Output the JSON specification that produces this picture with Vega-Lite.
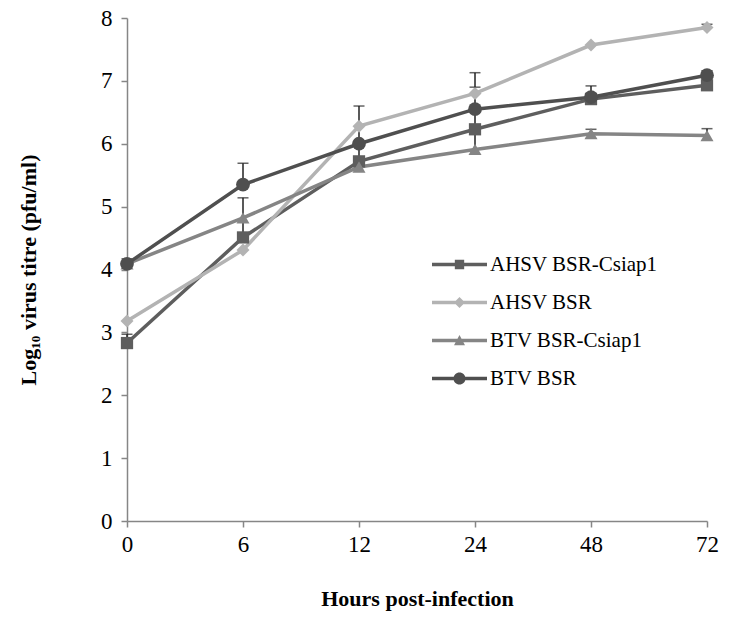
{
  "$schema": "https://vega.github.io/schema/vega-lite/v6.json",
  "width": 580,
  "height": 503,
  "autosize": {"type": "none"},
  "padding": {"left": 127, "top": 18, "right": 32, "bottom": 105},
  "background": "white",
  "config": {
    "view": {"stroke": null},
    "font": "Liberation Serif"
  },
  "datasets": {
    "means": [
      {"hour": "0", "series": "AHSV BSR-Csiap1", "value": 2.83},
      {"hour": "6", "series": "AHSV BSR-Csiap1", "value": 4.51},
      {"hour": "12", "series": "AHSV BSR-Csiap1", "value": 5.72},
      {"hour": "24", "series": "AHSV BSR-Csiap1", "value": 6.23},
      {"hour": "48", "series": "AHSV BSR-Csiap1", "value": 6.71},
      {"hour": "72", "series": "AHSV BSR-Csiap1", "value": 6.93},
      {"hour": "0", "series": "AHSV BSR", "value": 3.18},
      {"hour": "6", "series": "AHSV BSR", "value": 4.31},
      {"hour": "12", "series": "AHSV BSR", "value": 6.28},
      {"hour": "24", "series": "AHSV BSR", "value": 6.80},
      {"hour": "48", "series": "AHSV BSR", "value": 7.57},
      {"hour": "72", "series": "AHSV BSR", "value": 7.85},
      {"hour": "0", "series": "BTV BSR-Csiap1", "value": 4.09},
      {"hour": "6", "series": "BTV BSR-Csiap1", "value": 4.82},
      {"hour": "12", "series": "BTV BSR-Csiap1", "value": 5.63},
      {"hour": "24", "series": "BTV BSR-Csiap1", "value": 5.91},
      {"hour": "48", "series": "BTV BSR-Csiap1", "value": 6.16},
      {"hour": "72", "series": "BTV BSR-Csiap1", "value": 6.13},
      {"hour": "0", "series": "BTV BSR", "value": 4.09},
      {"hour": "6", "series": "BTV BSR", "value": 5.35},
      {"hour": "12", "series": "BTV BSR", "value": 6.00},
      {"hour": "24", "series": "BTV BSR", "value": 6.55},
      {"hour": "48", "series": "BTV BSR", "value": 6.74},
      {"hour": "72", "series": "BTV BSR", "value": 7.09}
    ],
    "errors": [
      {"hour": "0", "series": "AHSV BSR-Csiap1", "lo": 2.83, "hi": 2.97},
      {"hour": "0", "series": "BTV BSR", "lo": 4.09, "hi": 4.17},
      {"hour": "6", "series": "BTV BSR", "lo": 5.35, "hi": 5.69},
      {"hour": "6", "series": "AHSV BSR-Csiap1", "lo": 4.51, "hi": 5.14},
      {"hour": "12", "series": "AHSV BSR-Csiap1", "lo": 5.72, "hi": 6.60},
      {"hour": "24", "series": "BTV BSR-Csiap1", "lo": 5.91, "hi": 7.13},
      {"hour": "24", "series": "AHSV BSR", "lo": 6.80, "hi": 6.90},
      {"hour": "48", "series": "BTV BSR", "lo": 6.74, "hi": 6.92},
      {"hour": "48", "series": "BTV BSR-Csiap1", "lo": 6.16, "hi": 6.23},
      {"hour": "72", "series": "AHSV BSR", "lo": 7.85, "hi": 7.90},
      {"hour": "72", "series": "BTV BSR", "lo": 7.09, "hi": 7.16},
      {"hour": "72", "series": "BTV BSR-Csiap1", "lo": 6.13, "hi": 6.24}
    ]
  },
  "encoding": {
    "x": {"field": "hour", "type": "ordinal", "sort": ["0", "6", "12", "24", "48", "72"], "scale": {"type": "point", "padding": 0},
      "axis": {"title": "Hours post-infection", "labelAngle": 0, "tickSize": 6, "labelPadding": 6, "titlePadding": 32, "grid": false,
        "domainColor": "#868686", "tickColor": "#868686", "domainWidth": 1.5, "tickWidth": 1.5,
        "labelFont": "Liberation Serif", "labelFontSize": 23, "labelColor": "#000000",
        "titleFont": "Liberation Serif", "titleFontSize": 22, "titleFontWeight": "bold", "titleColor": "#000000"}}
  },
  "layer": [
    {
      "data": {"name": "errors"},
      "mark": {"type": "rule", "color": "#222222", "strokeWidth": 1.5},
      "encoding": {
        "y": {"field": "lo", "type": "quantitative", "scale": {"domain": [0, 8]},
          "axis": {"title": "Log₁₀ virus titre (pfu/ml)", "values": [0, 1, 2, 3, 4, 5, 6, 7, 8], "format": "d", "tickSize": 6, "labelPadding": 9, "titlePadding": 60, "grid": false,
            "domainColor": "#868686", "tickColor": "#868686", "domainWidth": 1.5, "tickWidth": 1.5,
            "labelFont": "Liberation Serif", "labelFontSize": 23, "labelColor": "#000000",
            "titleFont": "Liberation Serif", "titleFontSize": 22, "titleFontWeight": "bold", "titleColor": "#000000"}},
        "y2": {"field": "hi"}
      }
    },
    {
      "data": {"name": "errors"},
      "mark": {"type": "tick", "orient": "horizontal", "color": "#222222", "thickness": 1.5, "size": 11},
      "encoding": {
        "y": {"field": "hi", "type": "quantitative"}
      }
    },
    {
      "data": {"name": "means"},
      "mark": {"type": "line", "strokeWidth": 3.5},
      "encoding": {
        "y": {"field": "value", "type": "quantitative"},
        "color": {"field": "series", "type": "nominal", "scale": {"domain": ["AHSV BSR-Csiap1", "AHSV BSR", "BTV BSR-Csiap1", "BTV BSR"], "range": ["#5e5e5e", "#b3b3b3", "#858585", "#4f4f4f"]},
          "legend": {
          "title": null, "orient": "none", "legendX": 305, "legendY": 219,
          "labelFont": "Liberation Serif", "labelFontSize": 21, "labelColor": "#000000", "labelLimit": 0,
          "symbolSize": 3025, "symbolStrokeWidth": 0, "symbolOpacity": 1, "rowPadding": -5, "labelOffset": 3,
          "symbolType": {"expr": "'M-1,-0.3L-1,-0.3M-1,0.3L-1,0.3M-1,-0.065H1V0.065H-1Z ' + (datum.value == 'AHSV BSR-Csiap1' ? 'M-0.17,-0.17H0.17V0.17H-0.17Z' : datum.value == 'AHSV BSR' ? 'M0,-0.2L0.2,0L0,0.2L-0.2,0Z' : datum.value == 'BTV BSR-Csiap1' ? 'M0,-0.2L0.2,0.17H-0.2Z' : 'M-0.22,0a0.22,0.22 0 1,1 0.44,0a0.22,0.22 0 1,1 -0.44,0Z')"},
          "symbolFillColor": {"expr": "scale('color', datum.value)"}
        }},
        "detail": {"field": "series"}
      }
    },
    {
      "data": {"name": "means"},
      "transform": [{"filter": "datum.series == 'AHSV BSR-Csiap1'"}],
      "mark": {"type": "point", "filled": true, "opacity": 1, "size": 150, "shape": "square"},
      "encoding": {"y": {"field": "value", "type": "quantitative"}, "color": {"field": "series", "type": "nominal"}}
    },
    {
      "data": {"name": "means"},
      "transform": [{"filter": "datum.series == 'AHSV BSR'"}],
      "mark": {"type": "point", "filled": true, "opacity": 1, "size": 170, "shape": "diamond"},
      "encoding": {"y": {"field": "value", "type": "quantitative"}, "color": {"field": "series", "type": "nominal"}}
    },
    {
      "data": {"name": "means"},
      "transform": [{"filter": "datum.series == 'BTV BSR-Csiap1'"}],
      "mark": {"type": "point", "filled": true, "opacity": 1, "size": 170, "shape": "triangle-up"},
      "encoding": {"y": {"field": "value", "type": "quantitative"}, "color": {"field": "series", "type": "nominal"}}
    },
    {
      "data": {"name": "means"},
      "transform": [{"filter": "datum.series == 'BTV BSR'"}],
      "mark": {"type": "point", "filled": true, "opacity": 1, "size": 190, "shape": "circle"},
      "encoding": {"y": {"field": "value", "type": "quantitative"}, "color": {"field": "series", "type": "nominal"}}
    }
  ]
}
